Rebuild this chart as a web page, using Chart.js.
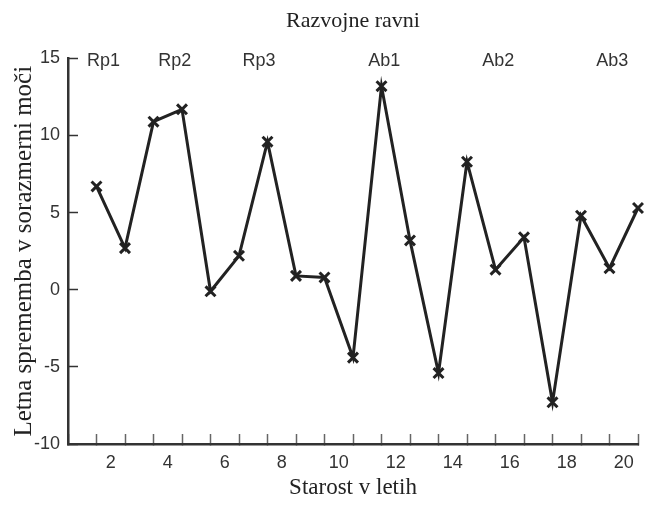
<!DOCTYPE html>
<html>
<head>
<meta charset="utf-8">
<script src="https://cdn.jsdelivr.net/npm/chart.js@4.4.1/dist/chart.umd.min.js"></script>
<style>
  html, body { margin: 0; padding: 0; background: #fff; }
  #wrap { width: 656px; height: 506px; }
</style>
</head>
<body>
<div id="wrap"><canvas id="chart"></canvas></div>
<script>
// ages (x) and yearly change (y)
const ages = [1.5, 2.5, 3.5, 4.5, 5.5, 6.5, 7.5, 8.5, 9.5, 10.5,
              11.5, 12.5, 13.5, 14.5, 15.5, 16.5, 17.5, 18.5, 19.5, 20.5]
const change = [6.7, 2.7, 10.9, 11.7, -0.1, 2.2, 9.6, 0.9, 0.8, -4.4,
                13.2, 3.2, -5.4, 8.3, 1.3, 3.4, -7.3, 4.8, 1.4, 5.3]

// development stage labels along the top
const stageNames = ['Rp1', 'Rp2', 'Rp3', 'Ab1', 'Ab2', 'Ab3']
const stageAt = [1.75, 4.25, 7.2, 11.6, 15.6, 19.6]
const stageY = 14.8

const sans = "'Liberation Sans', Arial, sans-serif"
const serif = "'Liberation Serif', 'Times New Roman', serif"

const points = ages.map((a, i) => ({x: a, y: change[i]}))

// stage names drawn at data coords
const stagePlugin = {
    id: 'stages',
    afterDatasetsDraw(chart) {
        const {ctx, scales: {x, y}} = chart
        ctx.save()
        ctx.font = '18px ' + sans
        ctx.fillStyle = '#333'
        ctx.textAlign = 'center'
        ctx.textBaseline = 'middle'
        stageNames.forEach((s, i) => {
            ctx.fillText(s, x.getPixelForValue(stageAt[i]), y.getPixelForValue(stageY))
        })
        ctx.restore()
    }
}

new Chart(document.getElementById('chart'), {
    type: 'line',
    data: {
        datasets: [{
            data: points,
            borderColor: '#222',
            borderWidth: 3,
            tension: 0,
            pointStyle: 'crossRot',
            pointRadius: 7,
            pointBorderWidth: 3,
            pointBorderColor: '#222',
            clip: false
        }]
    },
    options: {
        responsive: true,
        maintainAspectRatio: false,
        animation: false,
        layout: {padding: {left: 0, right: 12, top: 0, bottom: 0}},
        plugins: {
            legend: {display: false},
            tooltip: {enabled: false},
            title: {
                display: true,
                text: 'Razvojne ravni',
                fullSize: false,
                color: '#222',
                font: {family: serif, size: 22, weight: 'normal'},
                padding: {top: 8, bottom: 24}
            }
        },
        scales: {
            x: {
                type: 'linear',
                min: 0.5,
                max: 20.5,
                afterFit: s => { s.height = 62 },
                border: {display: true, color: '#333', width: 2.5},
                grid: {
                    drawOnChartArea: false,
                    tickLength: -10,
                    tickWidth: 1.5,
                    tickColor: c => (c.tick && c.tick.value % 1 !== 0) ? '#666' : 'rgba(0,0,0,0)'
                },
                ticks: {
                    stepSize: 0.5,
                    autoSkip: false,
                    maxRotation: 0,
                    minRotation: 0,
                    padding: 18,
                    color: '#333',
                    font: {family: sans, size: 18},
                    callback: v => (v % 2 === 0 ? v : '')
                },
                title: {
                    display: true,
                    text: 'Starost v letih',
                    color: '#222',
                    font: {family: serif, size: 23},
                    padding: {top: 0, bottom: 4}
                }
            },
            y: {
                min: -10,
                max: 15,
                afterFit: s => { s.width = 68 },
                border: {display: true, color: '#333', width: 2.5},
                grid: {
                    drawOnChartArea: false,
                    tickLength: -10,
                    tickWidth: 1.5,
                    tickColor: '#333'
                },
                ticks: {
                    stepSize: 5,
                    padding: 18,
                    color: '#333',
                    font: {family: sans, size: 18}
                },
                title: {
                    display: true,
                    text: 'Letna sprememba v sorazmerni moči',
                    color: '#222',
                    font: {family: serif, size: 25},
                    padding: {top: 9, bottom: 0}
                }
            }
        }
    },
    plugins: [stagePlugin]
})
</script>
</body>
</html>
